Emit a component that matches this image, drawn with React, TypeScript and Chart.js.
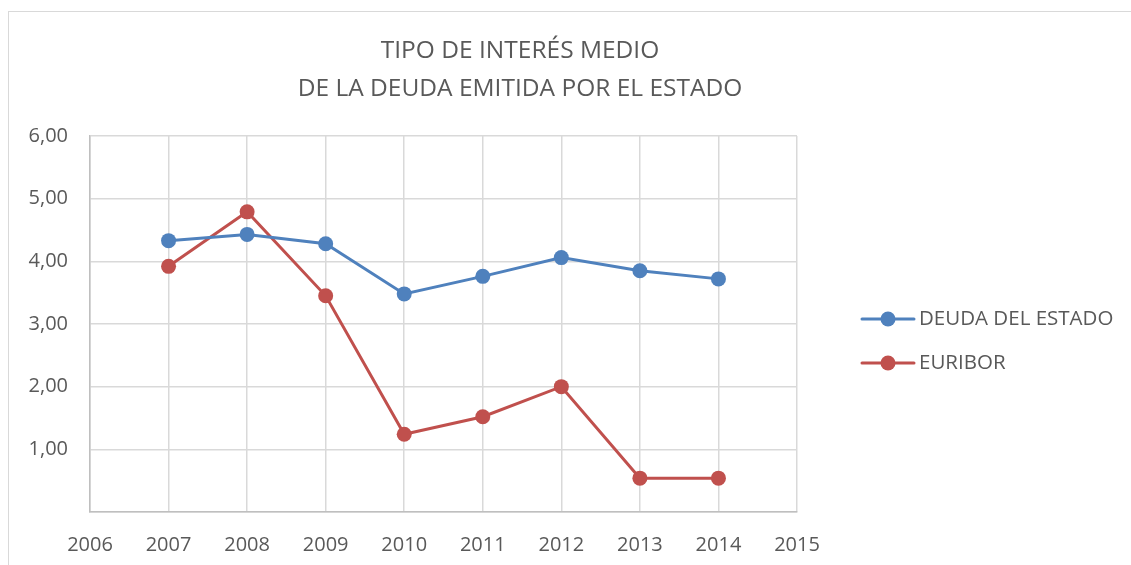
import React, { useEffect, useRef } from "react";
import { Chart, registerables } from "chart.js";

Chart.register(...registerables);

const years = [2007, 2008, 2009, 2010, 2011, 2012, 2013, 2014];
const deudaEstado = [4.33, 4.43, 4.28, 3.48, 3.76, 4.06, 3.85, 3.72];
const euribor = [3.92, 4.79, 3.45, 1.24, 1.52, 2.0, 0.54, 0.54];
const seriesNames = ["DEUDA DEL ESTADO", "EURIBOR"];
const titleLines = ["TIPO DE INTERÉS MEDIO", "DE LA DEUDA EMITIDA POR EL ESTADO"];

const BLUE = "#4f81bd";
const RED = "#c0504d";
const TEXT = "#595959";
const FONT = "'Open Sans', sans-serif";

const customPlugin = {
  id: "customDecor",
  afterDraw(chart: any) {
    const ctx = chart.ctx;
    ctx.save();
    // title
    ctx.fillStyle = TEXT;
    ctx.font = `24.5px ${FONT}`;
    ctx.textAlign = "center";
    ctx.textBaseline = "middle";
    ctx.fillText(titleLines[0], 520, 51);
    ctx.fillText(titleLines[1], 520, 89);
    // legend
    const items = [
      { label: seriesNames[0], color: BLUE, y: 319 },
      { label: seriesNames[1], color: RED, y: 363 },
    ];
    items.forEach((it) => {
      ctx.strokeStyle = it.color;
      ctx.lineWidth = 3;
      ctx.lineCap = "round";
      ctx.beginPath();
      ctx.moveTo(862, it.y);
      ctx.lineTo(914, it.y);
      ctx.stroke();
      ctx.fillStyle = it.color;
      ctx.beginPath();
      ctx.arc(888, it.y, 7.5, 0, Math.PI * 2);
      ctx.fill();
      ctx.fillStyle = TEXT;
      ctx.font = `20.5px ${FONT}`;
      ctx.textAlign = "left";
      ctx.textBaseline = "middle";
      ctx.fillText(it.label, 919, it.y);
    });
    ctx.restore();
  },
};

export default function App() {
  const ref = useRef<HTMLCanvasElement>(null);
  useEffect(() => {
    if (!ref.current) return;
    const chart = new Chart(ref.current, {
      type: "line",
      data: {
        datasets: [
          {
            label: seriesNames[0],
            data: years.map((y, i) => ({ x: y, y: deudaEstado[i] })),
            borderColor: BLUE,
            backgroundColor: BLUE,
            borderWidth: 3,
            pointRadius: 7.5,
            pointBorderWidth: 0,
            pointBackgroundColor: BLUE,
          },
          {
            label: seriesNames[1],
            data: years.map((y, i) => ({ x: y, y: euribor[i] })),
            borderColor: RED,
            backgroundColor: RED,
            borderWidth: 3,
            pointRadius: 7.5,
            pointBorderWidth: 0,
            pointBackgroundColor: RED,
          },
        ],
      },
      options: {
        animation: false,
        responsive: false,
        maintainAspectRatio: false,
        layout: { padding: { left: 8, right: 334, top: 136, bottom: 0 } },
        plugins: {
          legend: { display: false },
          title: { display: false },
          tooltip: { enabled: false },
        },
        scales: {
          x: {
            type: "linear",
            min: 2006,
            max: 2015,
            afterFit(scale: any) {
              scale.height = 53;
            },
            ticks: {
              stepSize: 1,
              color: TEXT,
              font: { family: FONT, size: 20 },
              padding: 21,
              maxRotation: 0,
              callback: (v: any) => String(v),
            },
            grid: { color: "#d9d9d9", lineWidth: 1.5, drawTicks: false },
            border: { color: "#bfbfbf", width: 1.5 },
          },
          y: {
            min: 0,
            max: 6,
            afterFit(scale: any) {
              scale.width = 82;
            },
            ticks: {
              stepSize: 1,
              color: TEXT,
              font: { family: FONT, size: 20 },
              padding: 22,
              callback: (v: any) => (v === 0 ? "" : Number(v).toFixed(2).replace(".", ",")),
            },
            grid: { color: "#d9d9d9", lineWidth: 1.5, drawTicks: false },
            border: { color: "#bfbfbf", width: 1.5 },
          },
        },
      },
      plugins: [customPlugin],
    });
    return () => chart.destroy();
  }, []);

  return (
    <div style={{ position: "absolute", left: 0, top: 0, width: 1131, height: 565, background: "#fff", overflow: "hidden" }}>
      <div
        style={{
          position: "absolute",
          left: 8,
          top: 11,
          width: 1140,
          height: 600,
          border: "1.5px solid #d9d9d9",
          boxSizing: "border-box",
        }}
      />
      <canvas ref={ref} width={1131} height={565} style={{ position: "absolute", left: 0, top: 0 }} />
    </div>
  );
}
